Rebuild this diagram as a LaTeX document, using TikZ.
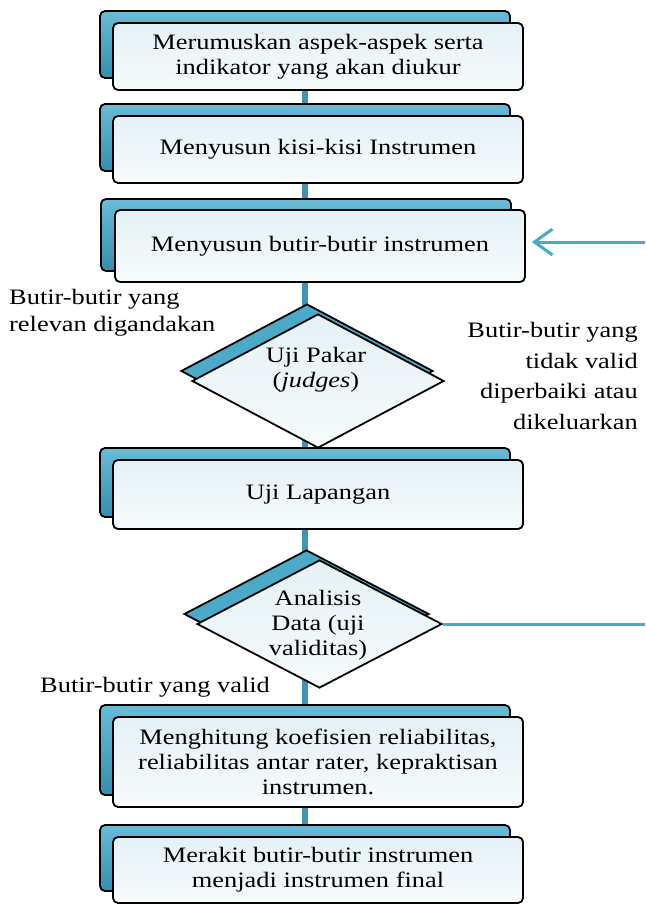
\documentclass[tikz,border=0pt]{standalone}
\usepackage{fontspec}
\setmainfont[FakeStretch=1.2]{Liberation Serif}
\usetikzlibrary{shapes.geometric,arrows.meta,backgrounds}
\definecolor{tabblue}{RGB}{75,170,200}
\definecolor{tabtop}{RGB}{105,188,214}
\definecolor{tabbot}{RGB}{52,142,174}
\definecolor{spineblue}{RGB}{62,150,180}
\definecolor{boxtop}{RGB}{228,241,246}
\definecolor{boxbot}{RGB}{247,251,252}
\begin{document}
\begin{tikzpicture}[x=1pt,y=-1pt,
  frontbox/.style={draw=black, line width=1.8pt, rounded corners=5pt, top color=boxtop, bottom color=boxbot, minimum width=410pt, inner sep=0pt, align=center, font=\fontsize{22}{25}\selectfont},
  backbox/.style={draw=black, line width=1.8pt, rounded corners=5pt, top color=tabtop, bottom color=tabbot, minimum width=410pt, inner sep=0pt},
  frontdiam/.style={diamond, draw=black, line width=1.8pt, top color=boxtop, bottom color=boxbot, inner sep=0pt},
  backdiam/.style={diamond, draw=black, line width=1.8pt, fill=tabblue, inner sep=0pt},
  txt/.style={font=\fontsize{22}{25}\selectfont, align=center, inner sep=0pt},
  spine/.style={draw=spineblue, line width=6pt},
  link/.style={draw=tabblue, line width=3pt},
  lbl/.style={font=\fontsize{22}{27}\selectfont, inner sep=0pt}]
\useasboundingbox (0,0) rectangle (645,904);

% step 1
\node[backbox, minimum height=67pt] (b1b) at (305,44.5) {};
\node[frontbox, minimum height=67pt] (b1) at (318,56.5) {Merumuskan aspek-aspek serta\\indikator yang akan diukur};
% step 2
\node[backbox, minimum height=67pt] (b2b) at (305,137.5) {};
\node[frontbox, minimum height=67pt] (b2) at (318,149.5) {Menyusun kisi-kisi Instrumen};
% step 3
\node[backbox, minimum height=72pt] (b3b) at (306,235) {};
\node[frontbox, minimum height=72pt] (b3) at (320,246) {Menyusun butir-butir instrumen};
% diamond 1
\node[backdiam, minimum width=252pt, minimum height=134pt] (d1b) at (307,371) {};
\node[frontdiam, minimum width=252pt, minimum height=134pt] (d1) at (318,381) {};
\node[txt] (d1t) at (316,370) {Uji Pakar\\(\textit{judges})};
% step 4
\node[backbox, minimum height=69pt] (b4b) at (305,482.5) {};
\node[frontbox, minimum height=69pt] (b4) at (318,494.5) {Uji Lapangan};
% diamond 2
\node[backdiam, minimum width=245pt, minimum height=128pt] (d2b) at (306.5,614) {};
\node[frontdiam, minimum width=245pt, minimum height=128pt] (d2) at (319.5,624) {};
\node[txt] (d2t) at (318,625) {Analisis\\Data (uji\\validitas)};
% step 5
\node[backbox, minimum height=90pt] (b5b) at (305,750) {};
\node[frontbox, minimum height=90pt] (b5) at (318,762) {Menghitung koefisien reliabilitas,\\reliabilitas antar rater, kepraktisan\\instrumen.};
% step 6
\node[backbox, minimum height=66pt] (b6b) at (305,858) {};
\node[frontbox, minimum height=66pt] (b6) at (318,870) {Merakit butir-butir instrumen\\menjadi instrumen final};

% spine behind everything
\begin{scope}[on background layer]
\draw[spine] (b1b.center) -- (b6b.center);
\end{scope}

% feedback links
\coordinate (r1) at (645,242);
\coordinate (r2) at (645,624);
\draw[link, -{Straight Barb[length=18pt,width=26pt]}, shorten >=6pt] (r1) -- (b3.east |- r1);
\draw[link] (d2.east) -- (r2);

% labels
\node[lbl, anchor=west, align=left] (lL) at (9,313) {Butir-butir yang\\relevan digandakan};
\node[lbl, anchor=east, align=right, font=\fontsize{22}{30.5}\selectfont] (lR) at (638,376) {Butir-butir yang\\tidak valid\\diperbaiki atau\\dikeluarkan};
\node[lbl, anchor=west] (lV) at (40,687) {Butir-butir yang valid};
\end{tikzpicture}
\end{document}
